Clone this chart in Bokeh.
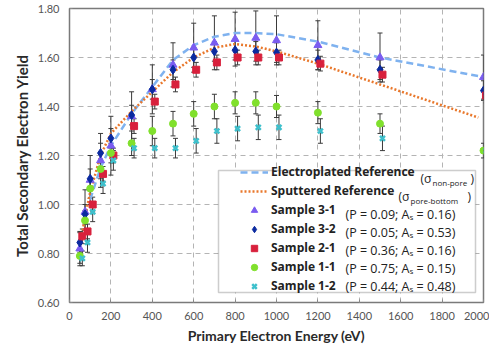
from bokeh.plotting import figure
from bokeh.models import (Legend, LegendItem, Whisker, TeeHead, ColumnDataSource, Label,
                          BoxAnnotation, FixedTicker, Range1d, NumeralTickFormatter)
from bokeh.transform import dodge
from bokeh.embed import file_html
from bokeh.resources import INLINE

# ---------------- data ----------------
energy = [50, 75, 100, 150, 200, 300, 400, 500, 600, 700, 800, 900, 1000, 1200, 1500, 2000]

s31 = [0.82, 0.97, 1.10, 1.18, 1.24, 1.36, 1.47, 1.57, 1.64, 1.66, 1.675, 1.68, 1.67, 1.65, 1.60, 1.52]
s32 = [0.845, 0.96, 1.105, 1.21, 1.27, 1.365, 1.47, 1.55, 1.60, 1.625, 1.63, 1.625, 1.62, 1.59, 1.55, 1.465]
s21 = [0.87, 0.89, 1.00, 1.125, 1.20, 1.32, 1.42, 1.49, 1.55, 1.58, 1.60, 1.60, 1.60, 1.575, 1.53, 1.445]
s11 = [0.79, 0.935, 1.065, 1.145, 1.21, 1.25, 1.30, 1.33, 1.37, 1.40, 1.415, 1.415, 1.40, 1.375, 1.33, 1.22]
s12 = [0.78, 0.845, 0.97, 1.085, 1.18, 1.23, 1.23, 1.23, 1.26, 1.30, 1.31, 1.315, 1.315, 1.30, 1.27, 1.22]

err31 = [0.07, 0.09, 0.10, 0.11, 0.12, 0.10, 0.10, 0.09, 0.10, 0.11, 0.11, 0.11, 0.10, 0.10, 0.10, 0.09]
err32 = [0.04, 0.04, 0.04, 0.04, 0.04, 0.04, 0.04, 0.04, 0.04, 0.04, 0.04, 0.04, 0.04, 0.04, 0.04, 0.04]
err21 = [0.03, 0.03, 0.03, 0.03, 0.03, 0.03, 0.03, 0.03, 0.03, 0.03, 0.03, 0.03, 0.03, 0.03, 0.03, 0.03]
err11 = [0.03, 0.04, 0.04, 0.04, 0.04, 0.05, 0.06, 0.05, 0.05, 0.05, 0.045, 0.045, 0.045, 0.045, 0.04, 0.03]
err12 = [0.03, 0.04, 0.04, 0.04, 0.04, 0.04, 0.04, 0.04, 0.05, 0.05, 0.05, 0.05, 0.05, 0.05, 0.05, 0.03]

ep_energy = [100, 150, 200, 300, 400, 500, 600, 700, 800, 900, 1000, 1200, 1500, 2000]
ep_yield = [1.02, 1.15, 1.24, 1.37, 1.48, 1.59, 1.65, 1.685, 1.70, 1.70, 1.695, 1.665, 1.60, 1.52]

sp_energy = [50, 75, 100, 150, 200, 300, 400, 500, 600, 700, 800, 900, 1000, 1200, 1500, 1975]
sp_yield = [0.83, 0.95, 1.05, 1.20, 1.29, 1.38, 1.46, 1.54, 1.60, 1.64, 1.655, 1.645, 1.625, 1.575, 1.49, 1.355]

series_names = ["Sample 3-1", "Sample 3-2", "Sample 2-1", "Sample 1-1", "Sample 1-2"]
series_notes = ["(P = 0.09; A\u209b = 0.16)", "(P = 0.05; A\u209b = 0.53)", "(P = 0.36; A\u209b = 0.16)",
                "(P = 0.75; A\u209b = 0.15)", "(P = 0.44; A\u209b = 0.48)"]
ref_names = ["Electroplated Reference", "Sputtered Reference"]
ref_subs = ["non-pore", "pore-bottom"]

x_ticks = [0, 200, 400, 600, 800, 1000, 1200, 1400, 1600, 1800, 2000]
y_ticks = [0.6, 0.8, 1.0, 1.2, 1.4, 1.6, 1.8]

FONT = "Lato"
LFONT = "Open Sans"

# ---------------- figure ----------------
p = figure(frame_width=414, frame_height=294, min_border_left=69, min_border_right=6,
           min_border_top=8, min_border_bottom=44,
           x_range=Range1d(0, 2000), y_range=Range1d(0.6, 1.8),
           output_backend="svg", toolbar_location=None, background_fill_color="white",
           border_fill_color="white")

p.outline_line_color = "#7a7a7a"
p.outline_line_width = 1.5

for ax in (p.xaxis[0], p.yaxis[0]):
    ax.axis_line_color = None
    ax.major_tick_line_color = "#888888"
    ax.major_tick_in = 3
    ax.major_tick_out = 0
    ax.minor_tick_line_color = None
    ax.major_label_text_font = FONT
    ax.major_label_text_font_size = "11px"
    ax.major_label_text_color = "#555555"
    ax.axis_label_text_font = FONT
    ax.axis_label_text_font_style = "bold"
    ax.axis_label_text_color = "#2a2a2a"

p.xaxis.axis_label_text_font_size = "14px"
p.yaxis.axis_label_text_font_size = "15px"
p.xaxis.ticker = FixedTicker(ticks=x_ticks)
p.yaxis.ticker = FixedTicker(ticks=y_ticks)
p.yaxis.formatter = NumeralTickFormatter(format="0.00")
p.xaxis.axis_label = "Primary Electron Energy (eV)"
p.yaxis.axis_label = "Total Secondary Electron Yield"
p.xaxis.major_label_standoff = 9
p.xaxis.axis_label_standoff = 4
p.yaxis.major_label_standoff = 10
p.yaxis.axis_label_standoff = 4

for g in (p.xgrid[0], p.ygrid[0]):
    g.grid_line_color = "#b4b4b4"
    g.grid_line_dash = "5 4"
    g.grid_line_width = 1

# ---------------- error bars ----------------
ERR_COLOR = "#3a3a3a"
samples = [
    (s31, err31, 0), (s32, err32, 0), (s21, err21, 12), (s11, err11, 0), (s12, err12, 12)
]
sources = []
for vals, errs, off in samples:
    src = ColumnDataSource(dict(x=energy, y=vals,
                                lo=[v - e for v, e in zip(vals, errs)],
                                hi=[v + e for v, e in zip(vals, errs)]))
    sources.append(src)
    w = Whisker(source=src, base=dodge("x", off, range=p.x_range), upper="hi", lower="lo",
                line_color=ERR_COLOR, line_width=1, level="underlay",
                upper_head=TeeHead(size=5, line_color=ERR_COLOR, line_width=1),
                lower_head=TeeHead(size=5, line_color=ERR_COLOR, line_width=1))
    p.add_layout(w)

# ---------------- reference curves ----------------
r_ep = p.line(ep_energy, ep_yield, line_color="#7fb2ef", line_width=2.5, line_dash="7 4")
r_sp = p.line(sp_energy, sp_yield, line_color="#e9782c", line_width=2.5, line_dash="2 2")

# ---------------- sample markers ----------------
r31 = p.scatter(x="x", y="y", source=sources[0], marker="triangle", size=8,
                fill_color="#7a5cf0", line_color="#7a5cf0")
r32 = p.scatter(x="x", y="y", source=sources[1], marker="diamond", size=9,
                fill_color="#0b2aa0", line_color="#0b2aa0")
r21 = p.scatter(x=dodge("x", 12, range=p.x_range), y="y", source=sources[2], marker="square", size=7,
                fill_color="#d8203c", line_color="#d8203c")
r11 = p.scatter(x="x", y="y", source=sources[3], marker="circle", size=7,
                fill_color="#80e02c", line_color="#80e02c")
r12 = p.scatter(x=dodge("x", 12, range=p.x_range), y="y", source=sources[4], marker="x", size=7,
                line_color="#3ec0cc", line_width=2.5)

# ---------------- legend ----------------
box = BoxAnnotation(left=149, right=406, bottom=10, top=132,
                    left_units="screen", right_units="screen", top_units="screen", bottom_units="screen",
                    fill_color="white", fill_alpha=1.0, line_color="#5a5a5a", line_width=1.5)
p.add_layout(box)

renderers = [r_ep, r_sp, r31, r32, r21, r11, r12]
labels = ref_names + series_names
legend = Legend(items=[LegendItem(label=l, renderers=[r]) for l, r in zip(labels, renderers)],
                location=(171, 8), padding=0, spacing=2, margin=0,
                glyph_width=28, glyph_height=16, label_height=16, label_standoff=3,
                label_text_font=LFONT, label_text_font_style="bold", label_text_font_size="12px",
                label_text_color="#222222",
                border_line_color=None, background_fill_alpha=0)
p.add_layout(legend)

row_y = [124 - 18 * k for k in range(7)]
sigma_x = [351, 329]
sub_dx = 12
close_x = [401, 398]
for k in range(2):
    p.add_layout(Label(x=sigma_x[k], y=row_y[k], x_units="screen", y_units="screen", text="(\u03c3",
                       text_baseline="middle", text_font=LFONT, text_font_size="12px", text_color="#222222"))
    p.add_layout(Label(x=sigma_x[k] + sub_dx, y=row_y[k] - 4, x_units="screen", y_units="screen",
                       text=ref_subs[k], text_baseline="middle", text_font=LFONT, text_font_size="8px",
                       text_color="#222222"))
    p.add_layout(Label(x=close_x[k], y=row_y[k], x_units="screen", y_units="screen", text=")",
                       text_baseline="middle", text_font=LFONT, text_font_size="12px", text_color="#222222"))

for k in range(5):
    p.add_layout(Label(x=276, y=row_y[k + 2], x_units="screen", y_units="screen", text=series_notes[k],
                       text_baseline="middle", text_font=LFONT, text_font_size="12.5px", text_color="#222222"))

open("out.html", "w").write(file_html(p, INLINE))
